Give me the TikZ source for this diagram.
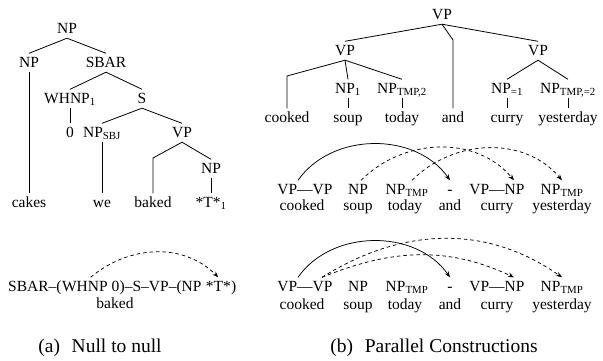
\documentclass[tikz,border=0pt]{standalone}
\usepackage{fontspec}
\setmainfont{Liberation Serif}
\usetikzlibrary{arrows.meta}
\tikzset{
  lbl/.style={font=\fontsize{15.5pt}{18pt}\selectfont, inner sep=2pt,
              text height=11.5pt, text depth=3pt, anchor=base},
  seg/.style={lbl, inner xsep=0pt, anchor=base west},
  captxt/.style={font=\fontsize{19.5pt}{23pt}\selectfont, inner sep=0pt, anchor=base},
  br/.style={line width=0.8pt},
  linkarc/.style={line width=0.75pt, -{Stealth[length=6pt,width=4.5pt]}},
  dlinkarc/.style={linkarc, dash pattern=on 3.5pt off 3pt}
}
\begin{document}
\begin{tikzpicture}[x=1pt,y=-1pt]
\useasboundingbox (0,0) rectangle (603,360);

% ---------- tree (a) ----------
\node[lbl] (a-np0)  at (67,33)  {NP};
\node[lbl] (a-np1)  at (29,67)  {NP};
\node[lbl] (a-sbar) at (106,67) {SBAR};
\node[lbl] (a-whnp) at (70,103) {WHNP\textsubscript{1}};
\node[lbl] (a-s)    at (142,103) {S};
\node[lbl] (a-zero) at (70,137) {0};
\node[lbl] (a-sbj)  at (102,137) {NP\textsubscript{SBJ}};
\node[lbl] (a-vp)   at (182,137) {VP};
\node[lbl] (a-npt)  at (211,173) {NP};
\node[lbl] (a-cakes) at (29,207) {cakes};
\node[lbl] (a-we)    at (102,207) {we};
\node[lbl] (a-baked) at (153,207) {baked};
\node[lbl] (a-trace) at (211,207) {*T*\textsubscript{1}};
\coordinate (a-kb) at (153,158);

\draw[br] (a-np0.south) -- (a-np1.north);
\draw[br] (a-np0.south) -- (a-sbar.north);
\draw[br] (a-np1.south) -- (a-cakes.north);
\draw[br] (a-sbar.south) -- (a-whnp.north);
\draw[br] (a-sbar.south) -- (a-s.north);
\draw[br] (a-whnp.south) -- (a-zero.north);
\draw[br] (a-s.south) -- (a-sbj.north);
\draw[br] (a-s.south) -- (a-vp.north);
\draw[br] (a-sbj.south) -- (a-we.north);
\draw[br] (a-vp.south) -- (a-kb) -- (a-baked.north);
\draw[br] (a-vp.south) -- (a-npt.north);
\draw[br] (a-npt.south) -- (a-trace.north);

% ---------- path string (a) ----------
\node[seg] (p1) at (8,291) {SBAR–(};
\node[seg] (p2) at (p1.base east) {WHNP 0};
\node[seg] (p3) at (p2.base east) {)–S–VP–(NP};
\node[seg] (p4) at ([xshift=3.9pt]p3.base east) {*T*};
\node[seg] (p5) at (p4.base east) {)};
\node[lbl] (p-baked) at (115,308) {baked};
\draw[dlinkarc] (p2.north) to[out=40,in=135] (p4.north);

% ---------- tree (b) ----------
\node[lbl] (b-vp)   at (442,19)  {VP};
\node[lbl] (b-vpl)  at (345,55)  {VP};
\node[lbl] (b-vpr)  at (538,55)  {VP};
\node[lbl] (b-np1)  at (348,93)  {NP\textsubscript{1}};
\node[lbl] (b-npt2) at (402,93)  {NP\textsubscript{TMP,2}};
\node[lbl] (b-npe1) at (507,93)  {NP\textsubscript{=1}};
\node[lbl] (b-npe2) at (568,93)  {NP\textsubscript{TMP,=2}};
\node[lbl] (b-cooked) at (287,122) {cooked};
\node[lbl] (b-soup)   at (348,122) {soup};
\node[lbl] (b-today)  at (402,122) {today};
\node[lbl] (b-and)    at (453,122) {and};
\node[lbl] (b-curry)  at (507,122) {curry};
\node[lbl] (b-yest)   at (568,122) {yesterday};
\coordinate (b-kc) at (287,76);
\coordinate (b-ka) at (453,40);

\draw[br] (b-vp.south) -- (b-vpl.north);
\draw[br] (b-vp.south) -- (b-vpr.north);
\draw[br] (b-vp.south) -- (b-ka) -- (b-and.north);
\draw[br] (b-vpl.south) -- (b-kc) -- (b-cooked.north);
\draw[br] (b-vpl.south) -- (b-np1.north);
\draw[br] (b-vpl.south) -- (b-npt2.north);
\draw[br] (b-vpr.south) -- (b-npe1.north);
\draw[br] (b-vpr.south) -- (b-npe2.north);
\draw[br] (b-np1.south) -- (b-soup.north);
\draw[br] (b-npt2.south) -- (b-today.north);
\draw[br] (b-npe1.south) -- (b-curry.north);
\draw[br] (b-npe2.south) -- (b-yest.north);

% ---------- first arc row ----------
\node[lbl] (r-a) at (305,194) {VP—VP};
\node[lbl] (r-b) at (358,194) {NP};
\node[lbl] (r-c) at (407,194) {NP\textsubscript{TMP}};
\node[lbl] (r-d) at (450,194) {-};
\node[lbl] (r-e) at (497,194) {VP—NP};
\node[lbl] (r-f) at (562,194) {NP\textsubscript{TMP}};
\node[lbl] (rw-a) at (302,210) {cooked};
\node[lbl] (rw-b) at (358,210) {soup};
\node[lbl] (rw-c) at (405,210) {today};
\node[lbl] (rw-d) at (450,210) {and};
\node[lbl] (rw-e) at (497,210) {curry};
\node[lbl] (rw-f) at (562,210) {yesterday};

\draw[linkarc]  ([xshift=-7pt]r-a.north) to[out=55,in=125] (r-d.north);
\draw[dlinkarc] ([xshift=3pt]r-b.north) to[out=45,in=130] ([xshift=17pt]r-e.north);
\draw[dlinkarc] ([xshift=5pt]r-c.north) to[out=45,in=130] (r-f.north);

% ---------- second arc row ----------
\node[lbl] (s-a) at (305,291) {VP—VP};
\node[lbl] (s-b) at (358,291) {NP};
\node[lbl] (s-c) at (407,291) {NP\textsubscript{TMP}};
\node[lbl] (s-d) at (450,291) {-};
\node[lbl] (s-e) at (497,291) {VP—NP};
\node[lbl] (s-f) at (562,291) {NP\textsubscript{TMP}};
\node[lbl] (sw-a) at (302,309) {cooked};
\node[lbl] (sw-b) at (358,309) {soup};
\node[lbl] (sw-c) at (405,309) {today};
\node[lbl] (sw-d) at (450,309) {and};
\node[lbl] (sw-e) at (497,309) {curry};
\node[lbl] (sw-f) at (562,309) {yesterday};

\draw[linkarc]  ([xshift=-7pt]s-a.north) to[out=55,in=125] (s-d.north);
\draw[dlinkarc] ([xshift=17pt]s-a.north) to[out=22,in=155] ([xshift=17pt]s-e.north);
\draw[dlinkarc] ([xshift=17pt]s-a.north) to[out=32,in=145] (s-f.north);

% ---------- captions ----------
\node[captxt] (cap-a) at (100,352) {(a)\hspace{0.6em}Null to null};
\node[captxt] (cap-b) at (434,352) {(b)\hspace{0.6em}Parallel Constructions};
\end{tikzpicture}
\end{document}
